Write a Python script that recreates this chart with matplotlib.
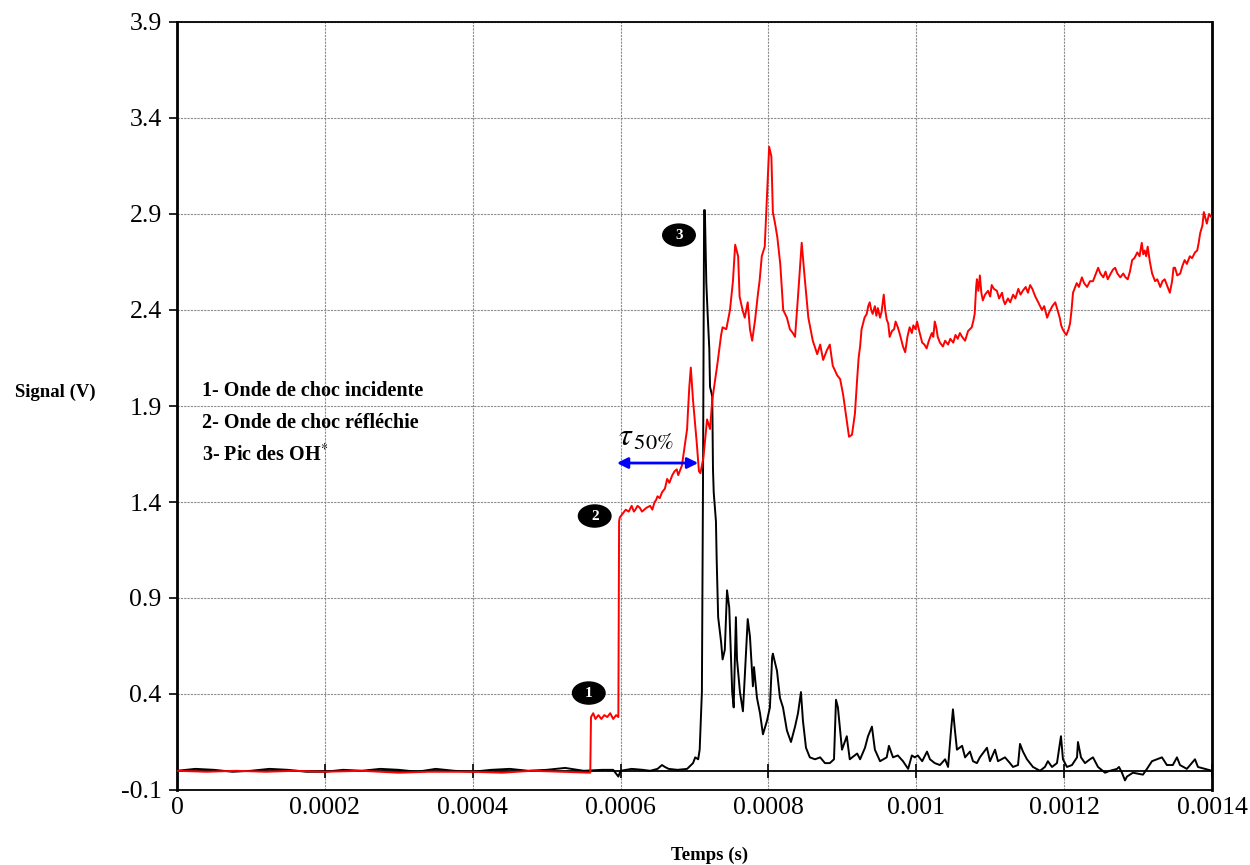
import numpy as np
import matplotlib
matplotlib.use('Agg')
from matplotlib import pyplot as plt
from matplotlib.patches import Ellipse

plt.rcParams['font.family'] = ['Liberation Serif', 'DejaVu Serif']
plt.rcParams['mathtext.fontset'] = 'stix'

# signal 1 (rouge) : temps en microsecondes, tension en V
t_rouge = [0, 40, 80, 120, 160, 200, 250, 300, 340, 400, 440, 480, 520, 559,
           560, 563, 566, 570, 574, 578, 582, 586, 590, 594, 597,
           598, 599, 603, 607, 611, 615, 618, 620, 623, 626, 629, 632, 635, 640, 643, 646, 648, 650,
           653, 656, 660, 663, 666, 670, 673, 676, 678, 680, 683,
           686, 690, 691, 693, 695, 698, 703, 706, 708, 712, 717, 721, 724, 728,
           731, 734, 736, 738, 743, 748, 752, 755, 759, 761, 765, 768, 772, 775, 778, 782, 786, 788, 791, 795,
           798, 801, 804, 806, 809, 812, 816, 820, 825, 829, 833, 836, 840, 845, 849, 854,
           860, 866, 870, 874, 879, 883, 887, 893, 897, 901, 905, 909, 913, 917, 920,
           922, 924, 926, 928, 930, 933, 935, 937, 939, 941, 944, 946, 948, 951, 953, 956, 958, 960, 962,
           964, 967, 970, 972, 975, 978, 982, 985, 988, 991, 994, 996, 999, 1001, 1004, 1008, 1011,
           1014, 1017, 1021, 1023, 1025, 1027, 1029, 1032, 1036, 1039, 1043, 1046, 1050, 1053, 1056,
           1059, 1062, 1066, 1070, 1075, 1077, 1079, 1081, 1082, 1084, 1086, 1088, 1090, 1093, 1097,
           1100, 1102, 1105, 1109, 1112, 1116, 1118, 1120, 1124, 1127, 1131, 1134, 1138, 1141, 1144,
           1148, 1151, 1154, 1157, 1161, 1165, 1170, 1173, 1177, 1180, 1184, 1188, 1191, 1194, 1196,
           1198, 1201, 1203, 1206, 1208, 1210, 1212, 1215, 1217, 1220, 1224, 1227, 1231, 1235, 1239,
           1242, 1246, 1249, 1253, 1256, 1259, 1263, 1266, 1269, 1272, 1276, 1280, 1283, 1286, 1289,
           1292, 1295, 1299, 1302, 1305, 1307, 1309, 1311, 1313, 1316, 1319, 1321, 1323, 1326, 1330,
           1333, 1336, 1339, 1343, 1346, 1348, 1350, 1353, 1357, 1360, 1363, 1366, 1370, 1373, 1377,
           1380, 1382, 1384, 1387, 1389, 1391, 1393, 1396, 1400]
v_rouge = [0.00, -0.005, 0.0, -0.005, 0.0, -0.005, 0.0, -0.01, -0.005, -0.005, -0.01, 0.0, -0.005, -0.01,
           0.28, 0.30, 0.27, 0.29, 0.27, 0.29, 0.28, 0.30, 0.27, 0.29, 0.28,
           1.30, 1.32, 1.34, 1.36, 1.35, 1.38, 1.35, 1.36, 1.38, 1.37, 1.35, 1.36, 1.37, 1.38, 1.36, 1.40, 1.41, 1.43,
           1.42, 1.45, 1.47, 1.52, 1.50, 1.54, 1.56, 1.57, 1.54, 1.56, 1.59,
           1.67, 1.78, 1.86, 2.00, 2.10, 1.93, 1.71, 1.56, 1.55, 1.63, 1.83, 1.78, 1.93, 2.04,
           2.12, 2.21, 2.27, 2.31, 2.30, 2.40, 2.55, 2.74, 2.68, 2.47, 2.40, 2.36, 2.44, 2.30, 2.24, 2.35, 2.49, 2.55, 2.68, 2.73,
           2.99, 3.25, 3.20, 2.91, 2.85, 2.78, 2.64, 2.40, 2.36, 2.30, 2.28, 2.26, 2.47, 2.75, 2.57, 2.36,
           2.24, 2.17, 2.22, 2.14, 2.19, 2.22, 2.11, 2.06, 2.04, 1.96, 1.85, 1.74, 1.75, 1.86, 2.04,
           2.15, 2.21, 2.30, 2.33, 2.36, 2.38, 2.42, 2.44, 2.40, 2.38, 2.42, 2.37, 2.41, 2.36, 2.39, 2.48, 2.40, 2.35, 2.33,
           2.26, 2.29, 2.30, 2.34, 2.31, 2.27, 2.21, 2.18, 2.26, 2.31, 2.28, 2.32, 2.30, 2.34, 2.29, 2.23, 2.22,
           2.20, 2.24, 2.28, 2.26, 2.34, 2.31, 2.26, 2.23, 2.21, 2.24, 2.22, 2.25, 2.23, 2.27, 2.25,
           2.28, 2.26, 2.24, 2.29, 2.31, 2.34, 2.38, 2.52, 2.56, 2.50, 2.58, 2.49, 2.45, 2.48, 2.50,
           2.47, 2.53, 2.51, 2.50, 2.46, 2.49, 2.45, 2.43, 2.46, 2.44, 2.48, 2.46, 2.51, 2.48, 2.50,
           2.52, 2.49, 2.53, 2.51, 2.47, 2.44, 2.40, 2.42, 2.36, 2.39, 2.42, 2.44, 2.40, 2.36, 2.32,
           2.30, 2.28, 2.27, 2.30, 2.33, 2.40, 2.49, 2.52, 2.54, 2.52, 2.57, 2.54, 2.52, 2.55, 2.55,
           2.58, 2.62, 2.59, 2.57, 2.60, 2.56, 2.59, 2.61, 2.62, 2.59, 2.57, 2.59, 2.57, 2.56, 2.60,
           2.66, 2.67, 2.70, 2.68, 2.75, 2.69, 2.71, 2.68, 2.73, 2.65, 2.59, 2.57, 2.55, 2.56, 2.52,
           2.55, 2.56, 2.53, 2.49, 2.55, 2.62, 2.62, 2.58, 2.59, 2.63, 2.66, 2.64, 2.68, 2.67, 2.70,
           2.71, 2.75, 2.80, 2.84, 2.91, 2.88, 2.85, 2.90, 2.88]

# signal 2 (noir) : emission OH*
t_noir = [0, 25, 50, 75, 100, 125, 150, 175, 200, 225, 250, 275, 300, 325, 350, 375, 400, 425, 450, 475,
          500, 525, 550, 575, 590, 597, 600, 615, 630, 640, 650, 656, 660, 665, 677, 690,
          698, 701, 705, 707, 710, 711.5, 713, 714, 716, 718, 720, 721, 724, 725, 726, 729, 730, 732,
          736, 738, 741, 744, 747, 751, 753, 756, 757.5, 761.5, 765.5, 768, 772, 775, 779, 780.5, 784.5,
          788.6, 792.6, 798, 802, 805, 806, 811.6, 815.6, 819.7, 825, 830.5, 836, 840, 844, 846.7,
          850.8, 856, 863, 870, 876.5, 883, 888.7, 891.4, 894, 899.5, 906, 910, 920, 924, 930.6, 934.7,
          940, 944, 951, 960, 963, 968.5, 975, 982, 989, 994, 998, 1002, 1008, 1014.5, 1018.5, 1025,
          1032, 1039, 1043, 1047, 1049.6, 1052.3, 1055, 1062, 1066, 1072.6, 1076.7, 1082, 1086, 1095.6,
          1099.7, 1106.5, 1110.5, 1120, 1126.7, 1130.8, 1137.6, 1140.3, 1144.3, 1149.7, 1157.8, 1167.3,
          1174, 1178, 1183.5, 1190.3, 1193, 1195.7, 1198.4, 1203.8, 1210.6, 1217.4, 1218.7, 1222.8,
          1228.2, 1235, 1239, 1245.8, 1255.3, 1262, 1271.5, 1274.2, 1278.2, 1282.3, 1285, 1293, 1306.6,
          1312, 1318.8, 1325.6, 1332.3, 1339, 1347, 1352.6, 1356.7, 1366, 1377, 1381, 1390.5, 1400]
v_noir = [0.0, 0.01, 0.005, -0.005, 0.0, 0.01, 0.005, -0.005, -0.005, 0.005, 0.0, 0.01, 0.005, -0.005,
          0.01, 0.0, -0.005, 0.005, 0.01, 0.0, 0.005, 0.015, 0.0, 0.005, 0.005, -0.03, 0.0, 0.01, 0.005, 0.0,
          0.01, 0.03, 0.02, 0.01, 0.005, 0.01,
          0.04, 0.07, 0.06, 0.11, 0.41, 1.50, 2.92, 2.92, 2.54, 2.36, 2.20, 2.00, 1.95, 1.57, 1.45, 1.30, 1.10, 0.80,
          0.67, 0.58, 0.63, 0.94, 0.85, 0.41, 0.33, 0.80, 0.58, 0.41, 0.31, 0.49, 0.79, 0.70, 0.44, 0.54, 0.38,
          0.30, 0.19, 0.26, 0.33, 0.59, 0.61, 0.52, 0.38, 0.33, 0.21, 0.15, 0.23, 0.30, 0.41, 0.26,
          0.12, 0.07, 0.06, 0.07, 0.04, 0.04, 0.06, 0.37, 0.33, 0.11, 0.18, 0.06, 0.09, 0.06, 0.12, 0.18,
          0.23, 0.11, 0.05, 0.07, 0.13, 0.07, 0.08, 0.05, 0.01, 0.08, 0.07, 0.08, 0.05, 0.10, 0.06, 0.04,
          0.03, 0.06, 0.02, 0.21, 0.32, 0.21, 0.11, 0.13, 0.07, 0.10, 0.05, 0.04, 0.07, 0.12,
          0.05, 0.11, 0.05, 0.07, 0.04, 0.02, 0.03, 0.14, 0.10, 0.06, 0.02, 0.00,
          0.02, 0.05, 0.02, 0.04, 0.11, 0.18, 0.06, 0.02, 0.03, 0.07, 0.15, 0.07,
          0.04, 0.06, 0.07, 0.02, -0.01, 0.00, 0.01, 0.02, -0.01, -0.05, -0.03, -0.01, -0.02,
          0.01, 0.05, 0.06, 0.07, 0.03, 0.03, 0.07, 0.03, 0.01, 0.06, 0.02, 0.01, 0.00]

x_ticks = [0, 0.0002, 0.0004, 0.0006, 0.0008, 0.001, 0.0012, 0.0014]
x_labels = ['0', '0.0002', '0.0004', '0.0006', '0.0008', '0.001', '0.0012', '0.0014']
y_ticks = [-0.1, 0.4, 0.9, 1.4, 1.9, 2.4, 2.9, 3.4, 3.9]

legende = ['1- Onde de choc incidente', '2- Onde de choc réfléchie', r'3- Pic des OH$^{*}$']
# reperes numerotes : (numero, temps en s, tension)
reperes = [('1', 0.000557, 0.405), ('2', 0.000565, 1.327), ('3', 0.000679, 2.79)]
tau_debut, tau_fin, tau_niveau = 0.000595, 0.000705, 1.603

fig = plt.figure(figsize=(12.5, 8.65), dpi=100)
ax = fig.add_axes([177/1250, 75/865, 1035/1250, 768/865])

t_r = np.array(t_rouge) * 1e-6
t_n = np.array(t_noir) * 1e-6
ax.axhline(0, color='black', lw=1.3, zorder=2)
ax.plot(t_n, v_noir, color='black', lw=1.4, zorder=3)
ax.plot(t_r, v_rouge, color='red', lw=1.4, zorder=4)

ax.set_xlim(0, 0.0014)
ax.set_ylim(-0.1, 3.9)
ax.set_xticks(x_ticks)
ax.set_xticklabels(x_labels)
ax.set_yticks(y_ticks)
ax.set_yticklabels(['%.1f' % v for v in y_ticks])
ax.tick_params(axis='x', length=0, labelsize=18.5, pad=5)
ax.tick_params(axis='y', length=6, width=1.2, labelsize=18.5, pad=5, direction='out')
ax.grid(True, color='#8c8c8c', lw=0.8, linestyle=(0, (2, 1)))
ax.set_axisbelow(True)
# petites graduations sur l'axe des temps (y = 0)
ax.plot(x_ticks[1:], np.zeros(len(x_ticks) - 1), linestyle='none', marker='|',
        ms=10, mew=1.2, color='black', zorder=2)
for s in ax.spines.values():
    s.set_color('black')
    s.set_linewidth(1.3)
ax.spines['left'].set_linewidth(2)
ax.spines['right'].set_linewidth(2)

for i, txt in enumerate(legende):
    ax.text(0.000034, 1.98 - i * 0.167, txt, fontsize=14.5, fontweight='bold',
            ha='left', va='center')

for num, tx, vy in reperes:
    ax.add_patch(Ellipse((tx, vy), 4.4e-5, 0.115, color='black', zorder=6))
    ax.text(tx, vy, num, color='white', fontsize=11, fontweight='bold',
            ha='center', va='center', zorder=7)

ax.annotate('', xy=(tau_debut, tau_niveau), xytext=(tau_fin, tau_niveau),
            arrowprops=dict(arrowstyle='<|-|>', color='blue', lw=2, mutation_scale=16,
                            shrinkA=0, shrinkB=0), zorder=5)
ax.text(0.000597, 1.73, r'$\tau_{\,50\%}$', fontsize=23, ha='left', va='center')

fig.text(55/1250, 1 - 392/865, 'Signal (V)', fontsize=13.5, fontweight='bold',
         ha='center', va='center')
fig.text(710/1250, 1 - 855/865, 'Temps (s)', fontsize=13.5, fontweight='bold',
         ha='center', va='center')

fig.savefig('out.png', dpi=100)
